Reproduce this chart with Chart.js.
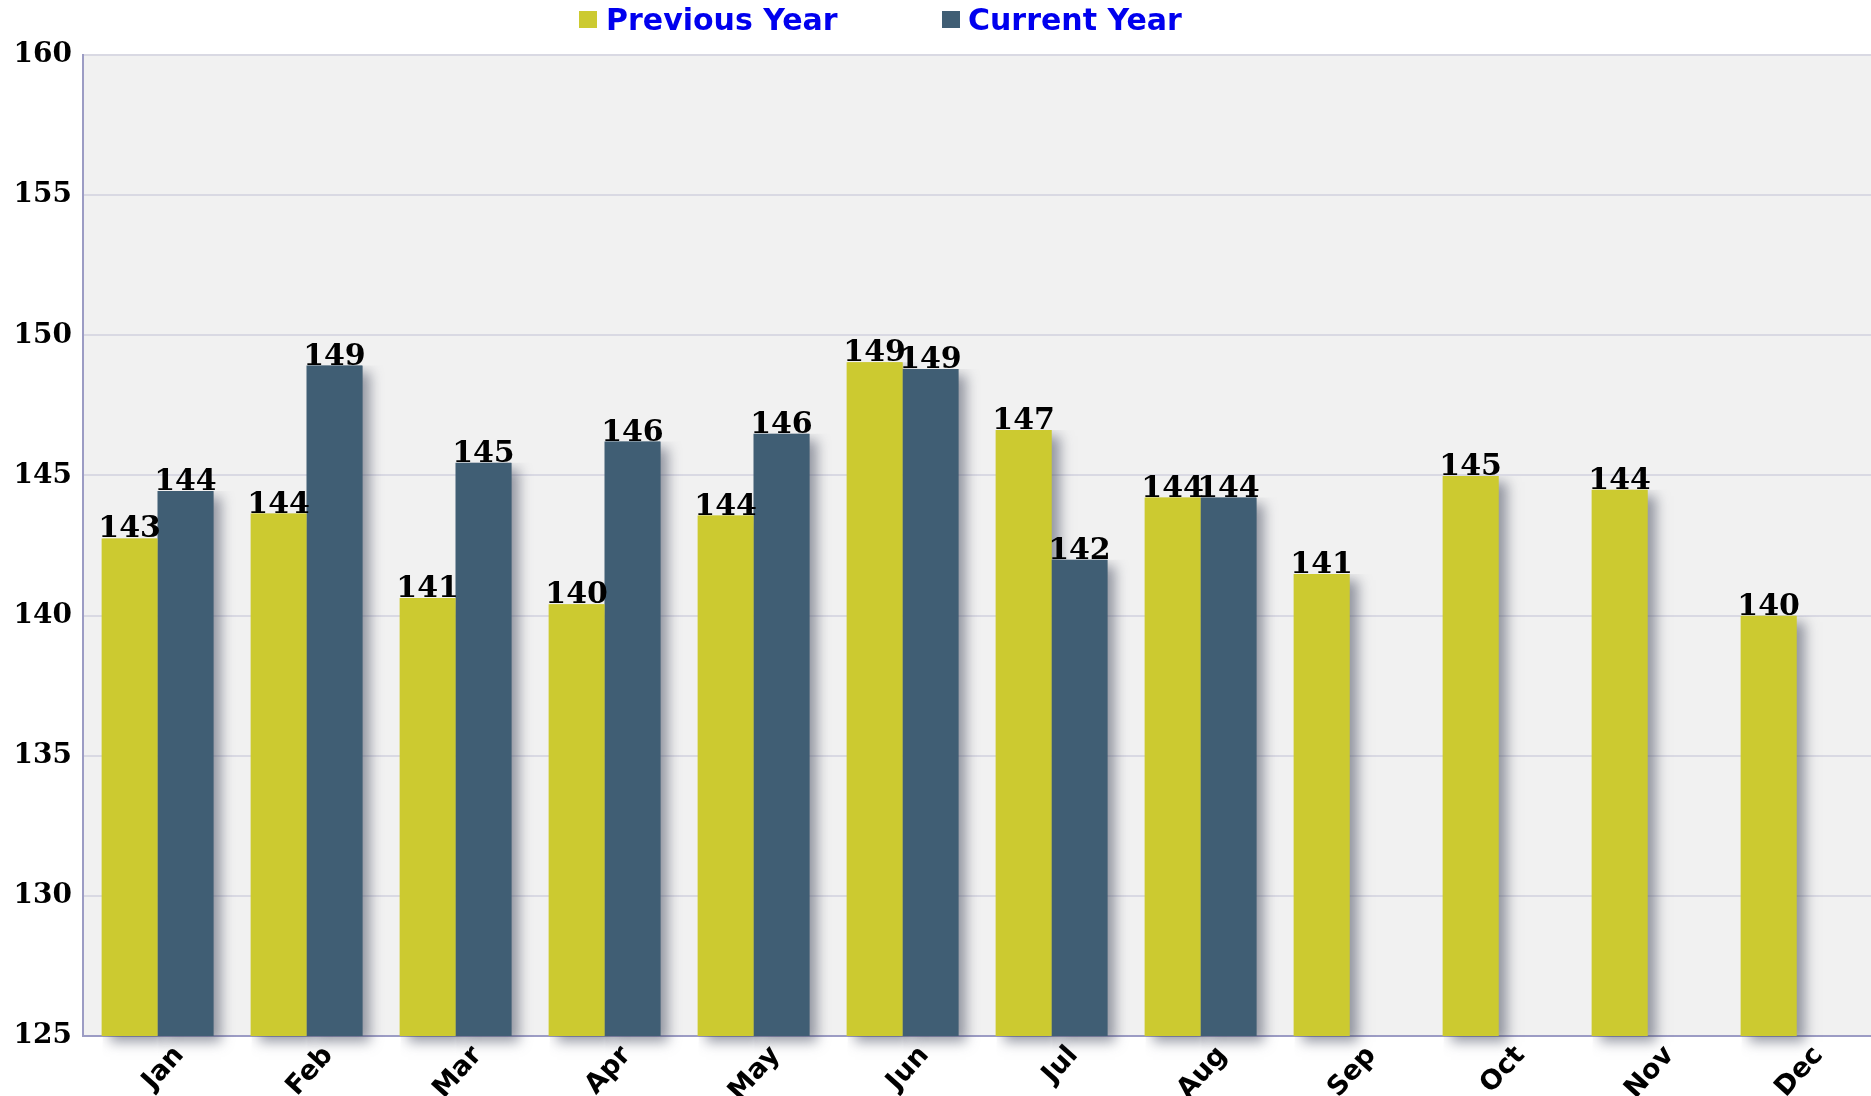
<!DOCTYPE html>
<html>
<head>
<meta charset="utf-8">
<script src="https://cdn.jsdelivr.net/npm/chart.js@4"></script>
<style>
html,body{margin:0;padding:0;background:#fff;overflow:hidden;}
#wrap{width:1871px;height:1096px;}
</style>
</head>
<body>
<div id="wrap"><canvas id="c" width="1871" height="1096"></canvas></div>
<script>
const categories = ['Jan','Feb','Mar','Apr','May','Jun','Jul','Aug','Sep','Oct','Nov','Dec'];
const previousYear = [142.75, 143.64, 140.63, 140.40, 143.57, 149.04, 146.62, 144.21, 141.48, 144.98, 144.49, 139.99];
const currentYear = [144.44, 148.92, 145.45, 146.21, 146.49, 148.80, 141.99, 144.21, null, null, null, null];
const seriesNames = ['Previous Year', 'Current Year'];
const yMin = 125, yMax = 160, yStep = 5;

const COL_PREV = '#CCCA30';
const COL_CURR = '#405E74';

const bgPlugin = {
  id: 'plotBg',
  beforeDraw(chart) {
    const {ctx, chartArea: a} = chart;
    ctx.save();
    ctx.fillStyle = '#ffffff';
    ctx.fillRect(0, 0, chart.width, chart.height);
    ctx.fillStyle = '#F1F1F1';
    ctx.fillRect(a.left, a.top, a.right - a.left, a.bottom - a.top);
    ctx.restore();
  }
};

const shadowPlugin = {
  id: 'barShadow',
  beforeDatasetsDraw(chart) {
    const ctx = chart.ctx;
    const a = chart.chartArea;
    ctx.save();
    chart.data.datasets.forEach((ds, i) => {
      const meta = chart.getDatasetMeta(i);
      meta.data.forEach((bar, j) => {
        if (ds.data[j] == null) return;
        const p = bar.getProps(['x','y','width'], true);
        const top = Math.max(p.y, a.top);
        ctx.save();
        ctx.beginPath();
        ctx.rect(p.x - p.width/2 + 1, top, p.width + 40, a.bottom - top + 30);
        ctx.clip();
        ctx.shadowColor = 'rgba(70,75,95,0.55)';
        ctx.shadowBlur = 12;
        ctx.shadowOffsetX = 8;
        ctx.shadowOffsetY = 6;
        ctx.fillStyle = ds.backgroundColor;
        ctx.fillRect(p.x - p.width/2, top, p.width, a.bottom - top);
        ctx.restore();
      });
    });
    ctx.restore();
  }
};

const labelPlugin = {
  id: 'valueLabels',
  afterDatasetsDraw(chart) {
    const ctx = chart.ctx;
    ctx.save();
    ctx.font = 'bold 30px "DejaVu Serif"';
    ctx.fillStyle = '#000';
    ctx.textAlign = 'center';
    ctx.textBaseline = 'alphabetic';
    chart.data.datasets.forEach((ds, i) => {
      const meta = chart.getDatasetMeta(i);
      meta.data.forEach((bar, j) => {
        const v = ds.data[j];
        if (v == null) return;
        const p = bar.getProps(['x','y'], true);
        ctx.fillText(String(Math.round(v)), p.x, p.y - 1);
      });
    });
    ctx.restore();
  }
};

const legendPlugin = {
  id: 'topLegend',
  afterDraw(chart) {
    const ctx = chart.ctx;
    const items = [{box: 579, text: 606}, {box: 942, text: 968}];
    ctx.save();
    ctx.font = 'bold 30px "DejaVu Sans"';
    ctx.textBaseline = 'alphabetic';
    ctx.textAlign = 'left';
    chart.data.datasets.forEach((ds, i) => {
      const it = items[i];
      ctx.fillStyle = ds.backgroundColor;
      ctx.fillRect(it.box, 11, 18, 17);
      ctx.fillStyle = '#0000EE';
      ctx.fillText(ds.label, it.text, 30);
    });
    ctx.restore();
  }
};

new Chart(document.getElementById('c'), {
  type: 'bar',
  data: {
    labels: categories,
    datasets: [
      {label: seriesNames[0], data: previousYear, backgroundColor: COL_PREV, borderWidth: 0},
      {label: seriesNames[1], data: currentYear, backgroundColor: COL_CURR, borderWidth: 0}
    ]
  },
  options: {
    responsive: false,
    animation: false,
    devicePixelRatio: 1,
    categoryPercentage: 0.75,
    barPercentage: 1.0,
    layout: {padding: {top: 55, left: 0, right: 0, bottom: 0}},
    plugins: {legend: {display: false}, tooltip: {enabled: false}, title: {display: false}},
    scales: {
      x: {
        grid: {display: false, drawTicks: false},
        border: {display: true, color: '#9C9CC4', width: 2},
        ticks: {
          autoSkip: false, maxRotation: 48, minRotation: 48,
          labelOffset: 22, padding: 4,
          color: '#000', font: {family: 'DejaVu Sans', weight: 'bold', size: 27}
        },
        afterFit(s) { s.height = 60; }
      },
      y: {
        min: yMin, max: yMax,
        grid: {color: '#D9D9E3', lineWidth: 2, drawTicks: false},
        border: {display: true, color: '#9C9CC4', width: 2},
        ticks: {
          stepSize: yStep, padding: 11, color: '#000',
          font: {family: 'DejaVu Serif', weight: 'bold', size: 28}
        },
        afterFit(s) { s.width = 83; }
      }
    }
  },
  plugins: [bgPlugin, shadowPlugin, labelPlugin, legendPlugin]
});
</script>
</body>
</html>
